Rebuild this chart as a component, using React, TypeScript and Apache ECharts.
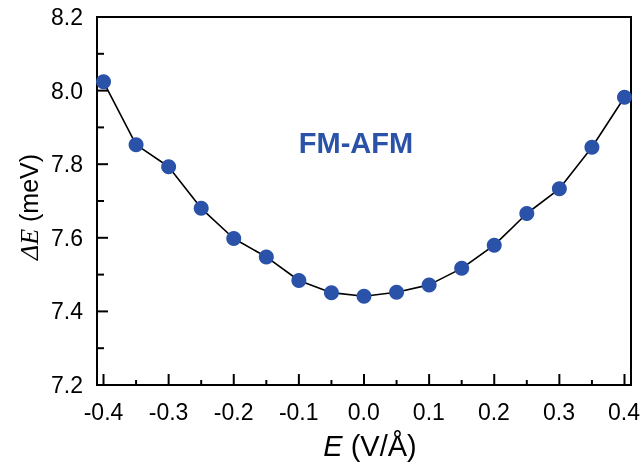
import React, { useEffect, useRef } from "react";
import * as echarts from "echarts";

// Electric field (V/Å) and FM–AFM energy difference (meV)
const fieldValues = [
  -0.4, -0.35, -0.3, -0.25, -0.2, -0.15, -0.1, -0.05, 0.0,
  0.05, 0.1, 0.15, 0.2, 0.25, 0.3, 0.35, 0.4,
];
const deltaEValues = [
  8.024, 7.853, 7.793, 7.68, 7.598, 7.548, 7.484, 7.451, 7.441,
  7.452, 7.472, 7.517, 7.58, 7.666, 7.733, 7.846, 7.982,
];

// Tick positions (major every 0.1 on x, every 0.2 on y; the rest are minor)
const xTickValues = [
  -0.4, -0.35, -0.3, -0.25, -0.2, -0.15, -0.1, -0.05, 0.0,
  0.05, 0.1, 0.15, 0.2, 0.25, 0.3, 0.35, 0.4,
];
const yTickValues = [7.2, 7.3, 7.4, 7.5, 7.6, 7.7, 7.8, 7.9, 8.0, 8.1, 8.2];

// Plot frame runs slightly past the outermost ticks
const X_FRAME_MIN = -0.41;
const X_FRAME_MAX = 0.41;
const X_TICK_MIN = -0.4;
const X_TICK_MAX = 0.4;
const X_STEP = 0.1;
const Y_MIN = 7.2;
const Y_MAX = 8.2;
const Y_STEP = 0.2;

const seriesLabel = "FM-AFM";
const BLUE = "#2a52a8";
const FONT = "Liberation Sans, Arial, Helvetica, sans-serif";
const SERIF = "Liberation Serif, Times New Roman, serif";

const GRID_LEFT = 97;
const GRID_RIGHT = 12;
const GRID_TOP = 17;
const GRID_BOTTOM = 83;
const CHART_W = 643;
const CHART_H = 468;

const MAJOR_LEN = 11;
const MINOR_LEN_X = 5;
const MINOR_LEN_Y = 7;

const fmt = (v: number) => {
  const r = Math.abs(v) < 1e-9 ? 0 : v;
  return r.toFixed(1);
};

const isMultiple = (v: number, step: number) =>
  Math.abs(v / step - Math.round(v / step)) < 1e-6;

const line = () => ({ color: "#000", width: 2 });

export default function App() {
  const ref = useRef<HTMLDivElement>(null);

  useEffect(() => {
    if (!ref.current) return;
    const chart = echarts.init(ref.current, null, { renderer: "svg" });
    const points = fieldValues.map((x, i) => [x, deltaEValues[i]]);

    // inset of the label grid so that its ends sit on X_TICK_MIN / X_TICK_MAX
    const frameW = CHART_W - GRID_LEFT - GRID_RIGHT;
    const frameH = CHART_H - GRID_TOP - GRID_BOTTOM;
    const pxPerUnit = frameW / (X_FRAME_MAX - X_FRAME_MIN);
    const insetL = (X_TICK_MIN - X_FRAME_MIN) * pxPerUnit;
    const insetR = (X_FRAME_MAX - X_TICK_MAX) * pxPerUnit;

    const tickStyle = { stroke: "#000", lineWidth: 2 };

    chart.setOption({
      animation: false,
      grid: [
        { left: GRID_LEFT, right: GRID_RIGHT, top: GRID_TOP, bottom: GRID_BOTTOM },
        {
          left: GRID_LEFT + insetL,
          right: GRID_RIGHT + insetR,
          top: GRID_TOP,
          bottom: GRID_BOTTOM,
        },
      ],
      xAxis: [
        {
          gridIndex: 0,
          type: "value",
          min: X_FRAME_MIN,
          max: X_FRAME_MAX,
          axisLine: { show: true, onZero: false, lineStyle: line() },
          axisTick: { show: false },
          minorTick: { show: false },
          axisLabel: { show: false },
          splitLine: { show: false },
        },
        {
          gridIndex: 1,
          type: "value",
          min: X_TICK_MIN,
          max: X_TICK_MAX,
          interval: X_STEP,
          axisLine: { show: false, onZero: false },
          axisTick: { show: false },
          minorTick: { show: false },
          splitLine: { show: false },
          minorSplitLine: { show: false },
          axisLabel: {
            show: true,
            margin: 15,
            color: "#000",
            fontSize: 23,
            fontFamily: FONT,
            formatter: (v: number) => fmt(v),
          },
        },
      ],
      yAxis: [
        {
          gridIndex: 0,
          type: "value",
          position: "left",
          min: Y_MIN,
          max: Y_MAX,
          interval: Y_STEP,
          axisLine: { show: true, onZero: false, lineStyle: line() },
          axisTick: { show: false },
          minorTick: { show: false },
          splitLine: { show: false },
          minorSplitLine: { show: false },
          axisLabel: {
            show: true,
            margin: 14,
            color: "#000",
            fontSize: 23,
            fontFamily: FONT,
            formatter: (v: number) => fmt(v),
          },
        },
        { gridIndex: 1, type: "value", min: Y_MIN, max: Y_MAX, show: false },
      ],
      graphic: [
        {
          // closed frame around the plot area
          type: "rect",
          silent: true,
          z: 1,
          shape: { x: GRID_LEFT, y: GRID_TOP, width: frameW, height: frameH },
          style: { fill: "none", stroke: "#000", lineWidth: 2 },
        },
        {
          type: "text",
          x: 356,
          y: 143,
          style: {
            text: seriesLabel,
            fill: BLUE,
            font: `bold 29px ${FONT}`,
            align: "center",
            verticalAlign: "middle",
          },
        },
        {
          type: "text",
          x: 29,
          y: 207,
          rotation: Math.PI / 2,
          style: {
            text: "{s|ΔE} {n|(meV)}",
            align: "center",
            verticalAlign: "middle",
            fill: "#000",
            fontSize: 25,
            fontFamily: FONT,
            rich: {
              s: { fontFamily: SERIF, fontStyle: "italic", fontSize: 26, fill: "#000" },
              n: { fontFamily: FONT, fontSize: 25, fill: "#000" },
            },
          },
        },
        {
          type: "text",
          x: 370,
          y: 446,
          style: {
            text: "{s|E} {n|(V/Å)}",
            align: "center",
            verticalAlign: "middle",
            fill: "#000",
            fontSize: 29,
            fontFamily: FONT,
            rich: {
              s: { fontFamily: FONT, fontStyle: "italic", fontSize: 29, fill: "#000" },
              n: { fontFamily: FONT, fontSize: 29, fill: "#000" },
            },
          },
        },
      ],
      series: [
        {
          // inward ticks along the bottom edge
          type: "custom",
          xAxisIndex: 0,
          yAxisIndex: 0,
          silent: true,
          z: 2,
          data: xTickValues.map((v) => [v, Y_MIN]),
          encode: { x: 0, y: 1 },
          renderItem: (_params: any, api: any) => {
            const v = api.value(0);
            const p = api.coord([v, api.value(1)]);
            const len = isMultiple(v, X_STEP) ? MAJOR_LEN : MINOR_LEN_X;
            return {
              type: "line",
              shape: { x1: p[0], y1: p[1], x2: p[0], y2: p[1] - len },
              style: tickStyle,
            };
          },
        },
        {
          // inward ticks along the left edge
          type: "custom",
          xAxisIndex: 0,
          yAxisIndex: 0,
          silent: true,
          z: 2,
          data: yTickValues.map((v) => [X_FRAME_MIN, v]),
          encode: { x: 0, y: 1 },
          renderItem: (_params: any, api: any) => {
            const v = api.value(1);
            const p = api.coord([api.value(0), v]);
            const len = isMultiple(v, Y_STEP) ? MAJOR_LEN : MINOR_LEN_Y;
            return {
              type: "line",
              shape: { x1: p[0], y1: p[1], x2: p[0] + len, y2: p[1] },
              style: tickStyle,
            };
          },
        },
        {
          type: "line",
          xAxisIndex: 0,
          yAxisIndex: 0,
          data: points,
          symbol: "circle",
          symbolSize: 15,
          showSymbol: true,
          lineStyle: { color: "#000", width: 1.6 },
          itemStyle: { color: BLUE, borderWidth: 0 },
          z: 3,
        },
      ],
    });

    return () => chart.dispose();
  }, []);

  return (
    <div
      ref={ref}
      style={{ position: "fixed", left: 0, top: 0, width: CHART_W, height: CHART_H }}
    />
  );
}
